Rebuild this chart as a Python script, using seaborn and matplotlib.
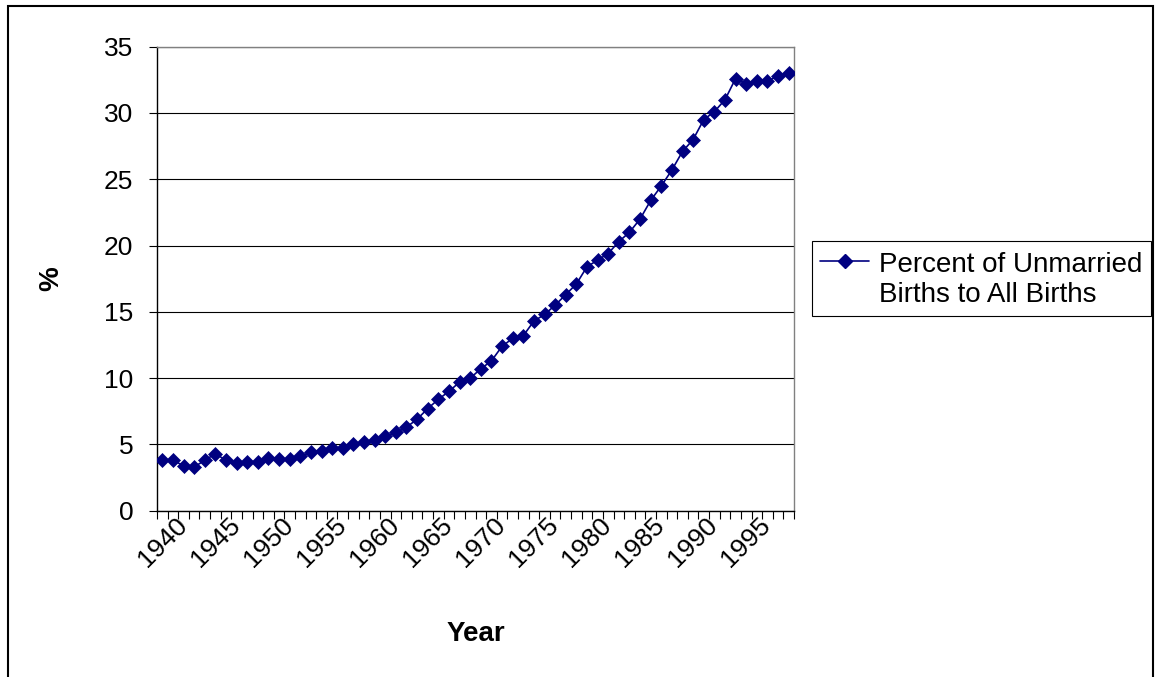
import numpy as np
import pandas as pd
import matplotlib
matplotlib.use("Agg")
import matplotlib.pyplot as plt
from matplotlib.lines import Line2D
from matplotlib.patches import Rectangle
import seaborn as sns

# Share of births to unmarried mothers, United States, by year
years = list(range(1940, 2000))
pct_unmarried = [3.8, 3.8, 3.4, 3.3, 3.8, 4.3, 3.8, 3.6, 3.7, 3.7,
                 4.0, 3.9, 3.9, 4.1, 4.4, 4.5, 4.7, 4.7, 5.0, 5.2,
                 5.3, 5.6, 5.9, 6.3, 6.9, 7.7, 8.4, 9.0, 9.7, 10.0,
                 10.7, 11.3, 12.4, 13.0, 13.2, 14.3, 14.8, 15.5, 16.3, 17.1,
                 18.4, 18.9, 19.4, 20.3, 21.0, 22.0, 23.4, 24.5, 25.7, 27.1,
                 28.0, 29.5, 30.1, 31.0, 32.6, 32.2, 32.4, 32.4, 32.8, 33.0]
year_labels = ["1940", "1945", "1950", "1955", "1960", "1965",
               "1970", "1975", "1980", "1985", "1990", "1995"]
y_ticks = [0, 5, 10, 15, 20, 25, 30, 35]
series_label_lines = ["Percent of Unmarried", "Births to All Births"]
x_title = "Year"
y_title = "%"

NAVY = "#000080"

sns.set_theme(style="white")
plt.rcParams["font.family"] = ["Liberation Sans", "DejaVu Sans"]
for key in ("text.color", "axes.labelcolor", "xtick.color", "ytick.color"):
    plt.rcParams[key] = "black"

W, H = 1156, 677
fig = plt.figure(figsize=(W / 100, H / 100), dpi=100)
left, right, top, bottom = 157, 794, 46.7, 510.7
ax = fig.add_axes([left / W, 1 - bottom / H, (right - left) / W, (bottom - top) / H])

df = pd.DataFrame({"Year": years, "Percent": pct_unmarried})
sns.lineplot(data=df, x="Year", y="Percent", ax=ax, color=NAVY, marker="D",
             markersize=7, markeredgecolor=NAVY, markeredgewidth=0.5,
             linewidth=1.2, legend=False, zorder=3)

# Category-style x axis: one slot per year, ticks on slot boundaries
ax.set_xlim(years[0] - 0.5, years[-1] + 0.5)
ax.set_ylim(y_ticks[0], y_ticks[-1])
ax.set_yticks(y_ticks)
ax.set_yticklabels([str(v) for v in y_ticks], fontsize=19, color="black")
ax.set_xticks([int(s) for s in year_labels])
ax.set_xticklabels(year_labels, rotation=45, ha="center", va="top",
                   fontsize=19, color="black")
ax.set_xticks(np.arange(years[0] - 0.5, years[-1] + 1.0, 1.0), minor=True)

ax.tick_params(axis="x", which="major", bottom=True, length=0, pad=2)
ax.tick_params(axis="x", which="minor", bottom=True, length=6, width=0.8,
               color="black", direction="out")
ax.tick_params(axis="y", which="major", left=True, length=6, width=0.8,
               color="black", direction="out", pad=11)

ax.yaxis.grid(True, color="black", linewidth=0.8)
ax.xaxis.grid(False)
ax.set_axisbelow(True)

for side in ("left", "bottom"):
    ax.spines[side].set_color("black")
    ax.spines[side].set_linewidth(1.0)
for side in ("top", "right"):
    ax.spines[side].set_color("#808080")
    ax.spines[side].set_linewidth(1.0)

ax.set_xlabel(x_title, fontsize=20, fontweight="bold", color="black")
ax.set_ylabel(y_title, fontsize=20, fontweight="bold", color="black")
ax.xaxis.set_label_coords(0.5, (bottom - 634) / (bottom - top))
ax.xaxis.label.set_verticalalignment("center")
ax.yaxis.set_label_coords((51 - left) / (right - left), 0.5)
ax.yaxis.label.set_verticalalignment("center")

# Legend: handle sits beside the first line of the series name
handle = Line2D([], [], color=NAVY, marker="D", markersize=7,
                markeredgecolor=NAVY, linewidth=1.2)
spacer = Line2D([], [], color="none")
leg = fig.legend([handle, spacer], series_label_lines, loc="upper left",
                 bbox_to_anchor=(812 / W, 1 - 240.7 / H), frameon=True,
                 fancybox=False, edgecolor="black", framealpha=1, fontsize=20,
                 handlelength=1.76, handleheight=1.16, handletextpad=0.36,
                 borderpad=0.3, labelspacing=0.0, borderaxespad=0)
leg.get_frame().set_linewidth(0.8)
for t in leg.get_texts():
    t.set_color("black")

# Outer chart frame
fig.add_artist(Rectangle((8 / W, -0.01), (1153 - 8) / W, (1 - 6 / H) + 0.01,
                         transform=fig.transFigure, fill=False,
                         edgecolor="black", linewidth=1.5))

fig.savefig("out.png", dpi=100)
